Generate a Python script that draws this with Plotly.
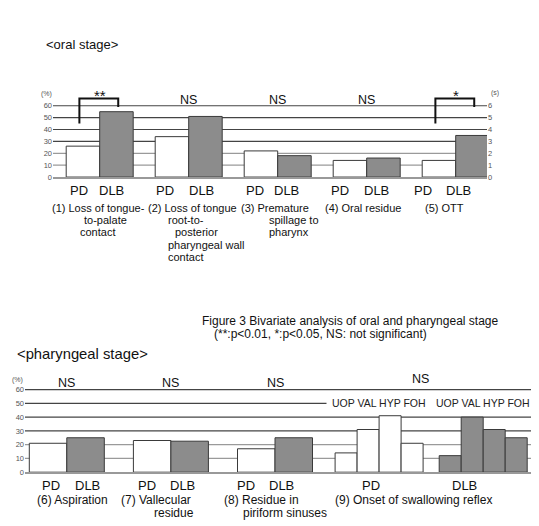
import numpy as np
import plotly.graph_objects as go

# ---------------- data ----------------
groups = ["PD", "DLB"]

oral_pd_pct = [26, 34, 22, 14]          # (1)-(4), %
oral_dlb_pct = [55, 51, 18, 16]
ott_pd_s = [1.4]                        # (5) OTT, seconds
ott_dlb_s = [3.5]
oral_sig = ["**", "NS", "NS", "NS", "*"]
oral_desc = [
    ["(1) Loss of tongue-", "to-palate", "contact"],
    ["(2) Loss of tongue", "root-to-", "posterior", "pharyngeal wall", "contact"],
    ["(3) Premature", "spillage to", "pharynx"],
    ["(4) Oral residue"],
    ["(5) OTT"],
]

phar_pd_pct = [21, 23, 17]              # (6)-(8), %
phar_dlb_pct = [25, 22.5, 25]
onset_labels = ["UOP", "VAL", "HYP", "FOH"]
onset_pd_pct = [14, 31, 41, 21]         # (9)
onset_dlb_pct = [12, 40, 31, 25]
phar_sig = ["NS", "NS", "NS", "NS"]
phar_desc = [
    ["(6) Aspiration"],
    ["(7) Vallecular", "residue"],
    ["(8) Residue in", "piriform sinuses"],
    ["(9) Onset of swallowing reflex"],
]

pct_ticks = [0, 10, 20, 30, 40, 50, 60]
sec_ticks = [0, 1, 2, 3, 4, 5, 6]

# ---------------- layout helpers ----------------
W, H = 539, 526
OFF = 8                      # page body margin
FW, FH = W - OFF, H - OFF    # figure size
FONT = "Liberation Sans, Arial, sans-serif"
def px(x):
    return (x - OFF) / FW
def py(y):
    return 1 - (y - OFF) / FH

EDGE = "#3a3a3a"
GRAY = "#8c8c8c"

fig = go.Figure()

# ---- oral subplot geometry (pixels in the window) ----
o_x0, o_x1 = 53, 487
o_c0, o_per = 99.7, 89.0
o_y0, o_ppu = 178.7, 1.2     # pixel of 0, pixels per unit (%)
o_top = 75
w1 = 33.5 / o_per

oral_idx = np.arange(len(oral_pd_pct))
ott_idx = np.array([len(oral_pd_pct)])

fig.add_bar(x=oral_idx, y=oral_pd_pct, width=w1, offset=-w1,
            marker=dict(color="white", line=dict(color=EDGE, width=1)),
            xaxis="x", yaxis="y", name="PD")
fig.add_bar(x=oral_idx, y=oral_dlb_pct, width=w1, offset=0,
            marker=dict(color=GRAY, line=dict(color=EDGE, width=1)),
            xaxis="x", yaxis="y", name="DLB")
fig.add_bar(x=ott_idx, y=ott_pd_s, width=w1, offset=-w1,
            marker=dict(color="white", line=dict(color=EDGE, width=1)),
            xaxis="x", yaxis="y2", name="PD OTT")
fig.add_bar(x=ott_idx, y=ott_dlb_s, width=w1, offset=0,
            marker=dict(color=GRAY, line=dict(color=EDGE, width=1)),
            xaxis="x", yaxis="y2", name="DLB OTT")

# ---- pharyngeal subplot geometry ----
p_x0, p_x1 = 25, 538
p_c0, p_per = 66.8, 104.1
p_y0, p_ppu = 476.7, 1.39
p_top = 72
w2 = 37.5 / p_per
w3 = 22 / p_per

phar_idx = np.arange(len(phar_pd_pct))
n_on = len(onset_labels)
on_offsets = [(k - n_on / 2) * w3 for k in range(n_on)]
pd_cluster = len(phar_pd_pct)
dlb_cluster = pd_cluster + 1

fig.add_bar(x=phar_idx, y=phar_pd_pct, width=w2, offset=-w2,
            marker=dict(color="white", line=dict(color=EDGE, width=1)),
            xaxis="x2", yaxis="y3")
fig.add_bar(x=phar_idx, y=phar_dlb_pct, width=w2, offset=0,
            marker=dict(color=GRAY, line=dict(color=EDGE, width=1)),
            xaxis="x2", yaxis="y3")
fig.add_bar(x=[pd_cluster] * n_on, y=onset_pd_pct, width=w3, offset=on_offsets,
            marker=dict(color="white", line=dict(color=EDGE, width=1)),
            xaxis="x2", yaxis="y3")
fig.add_bar(x=[dlb_cluster] * n_on, y=onset_dlb_pct, width=w3, offset=on_offsets,
            marker=dict(color=GRAY, line=dict(color=EDGE, width=1)),
            xaxis="x2", yaxis="y3")

# ---------------- axes ----------------
tickfont = dict(family=FONT, size=7.5, color="#555")
fig.update_layout(
    width=FW, height=FH, autosize=False,
    margin=dict(l=0, r=0, t=0, b=0),
    paper_bgcolor="white", plot_bgcolor="rgba(0,0,0,0)",
    showlegend=False, barmode="overlay",
    font=dict(family=FONT, color="#111"),
    xaxis=dict(domain=[px(o_x0), px(o_x1)],
               range=[(o_x0 - o_c0) / o_per, (o_x1 - o_c0) / o_per],
               showticklabels=False, showgrid=False, zeroline=False,
               showline=True, linecolor="#999", linewidth=1.5, anchor="y"),
    yaxis=dict(domain=[py(o_y0), py(o_y0 - o_top * o_ppu)], range=[0, o_top],
               tickvals=pct_ticks, ticktext=[str(v) for v in pct_ticks], tickfont=tickfont,
               showgrid=False, zeroline=False, showline=False, ticks="", anchor="x"),
    yaxis2=dict(overlaying="y", side="right", anchor="x", range=[0, o_top / 10],
                tickvals=sec_ticks, ticktext=[str(v) for v in sec_ticks], tickfont=tickfont,
                showgrid=False, zeroline=False, showline=False, ticks=""),
    xaxis2=dict(domain=[px(p_x0), px(p_x1)],
                range=[(p_x0 - p_c0) / p_per, (p_x1 - p_c0) / p_per],
                showticklabels=False, showgrid=False, zeroline=False,
                showline=True, linecolor="#999", linewidth=1.5, anchor="y3"),
    yaxis3=dict(domain=[py(p_y0), py(p_y0 - p_top * p_ppu)], range=[0, p_top],
                tickvals=pct_ticks, ticktext=[str(v) for v in pct_ticks], tickfont=tickfont,
                showgrid=False, zeroline=False, showline=False, ticks="", anchor="x2"),
)

# ---------------- gridlines (below traces) ----------------
shapes = []
for xr, yr in (("x domain", "y"), ("x2 domain", "y3")):
    for v in pct_ticks[1:]:
        shapes.append(dict(type="line", xref=xr, yref=yr, x0=0, x1=1, y0=v, y1=v,
                           layer="below",
                           line=dict(color="#444" if v >= 30 else "#9a9a9a", width=1.2)))

# significance brackets (oral)
br_low, br_top, br_right = 45, 66, 59
for i, s in enumerate(oral_sig):
    if s != "NS":
        xl, xr_ = i - w1 / 2 - 0.04, i + w1 / 2 + 0.02
        shapes.append(dict(type="path", xref="x", yref="y", layer="above",
                           path=f"M {xl},{br_low} L {xl},{br_top} L {xr_},{br_top} L {xr_},{br_right}",
                           line=dict(color="#111", width=2)))
fig.update_layout(shapes=shapes)

# ---------------- annotations ----------------
ann = []
def txt(x, y, t, size, xanchor="center", color="#111"):
    ann.append(dict(x=px(x), y=py(y), xref="paper", yref="paper", text=t, showarrow=False,
                    xanchor=xanchor, yanchor="middle",
                    font=dict(family=FONT, size=size, color=color)))

# titles
txt(44, 45, "&lt;oral stage&gt;", 13, xanchor="left")
txt(15, 357, "&lt;pharyngeal stage&gt;", 14.8, xanchor="left")
# caption
txt(200, 324, "Figure 3 Bivariate analysis of oral and pharyngeal stage", 12, xanchor="left")
txt(212, 337, "(**:p&lt;0.01, *:p&lt;0.05, NS: not significant)", 12, xanchor="left")

# unit labels
txt(46, 95, "(%)", 7, color="#555")
txt(495, 94, "(s)", 7, color="#555")
txt(17, 384, "(%)", 7, color="#555")

# significance text (oral)
for i, s in enumerate(oral_sig):
    if s == "NS":
        ann.append(dict(x=i, y=65, xref="x", yref="y", text=s, showarrow=False,
                        font=dict(family=FONT, size=12.5, color="#111")))
    else:
        ann.append(dict(x=i, y=68.5, xref="x", yref="y", text=s, showarrow=False,
                        font=dict(family=FONT, size=15, color="#111")))

# significance text (pharyngeal)
phar_sig_x = [0, 1, 2, 3.4]
phar_sig_y = [64.7, 64.7, 64.7, 67.4]
for s, xv, yv in zip(phar_sig, phar_sig_x, phar_sig_y):
    ann.append(dict(x=xv, y=yv, xref="x2", yref="y3", text=s, showarrow=False,
                    font=dict(family=FONT, size=12.5, color="#111")))

# onset-phase labels over clusters (on the 50% line)
for cl in (pd_cluster, dlb_cluster):
    ann.append(dict(x=cl, y=50, xref="x2", yref="y3", text=" ".join(onset_labels), showarrow=False,
                    bgcolor="white", borderpad=5,
                    font=dict(family=FONT, size=10.5, color="#222")))

# PD / DLB labels (oral)
oral_grp_px = [(79, 111.7), (165, 201.7), (255, 286.7), (340, 376), (423, 458)]
for (a, b) in oral_grp_px:
    txt(a, 192.7, groups[0], 13)
    txt(b, 192.7, groups[1], 13)

# oral descriptions
oral_desc_px = [[50, 81.7, 77.7], [145.7, 166, 173, 166, 166], [239, 266.7, 266.7], [322.7], [422.7]]
for lines, xs in zip(oral_desc, oral_desc_px):
    for k, (t, xv) in enumerate(zip(lines, xs)):
        txt(xv, 210 + 12.3 * k, t, 11, xanchor="left")

# PD / DLB labels (pharyngeal)
phar_grp_px = [(50.5, 87.7), (147, 182.5), (245.5, 281.7), (370.8, 464)]
for (a, b) in phar_grp_px:
    txt(a, 490, groups[0], 13)
    txt(b, 490, groups[1], 13)

# pharyngeal descriptions
phar_desc_px = [[35], [119.3, 151.7], [221.7, 240.7], [333.3]]
for lines, xs in zip(phar_desc, phar_desc_px):
    for k, (t, xv) in enumerate(zip(lines, xs)):
        txt(xv, 505 + 13.3 * k, t, 12, xanchor="left")

fig.update_layout(annotations=ann)
fig.write_html("out.html")
